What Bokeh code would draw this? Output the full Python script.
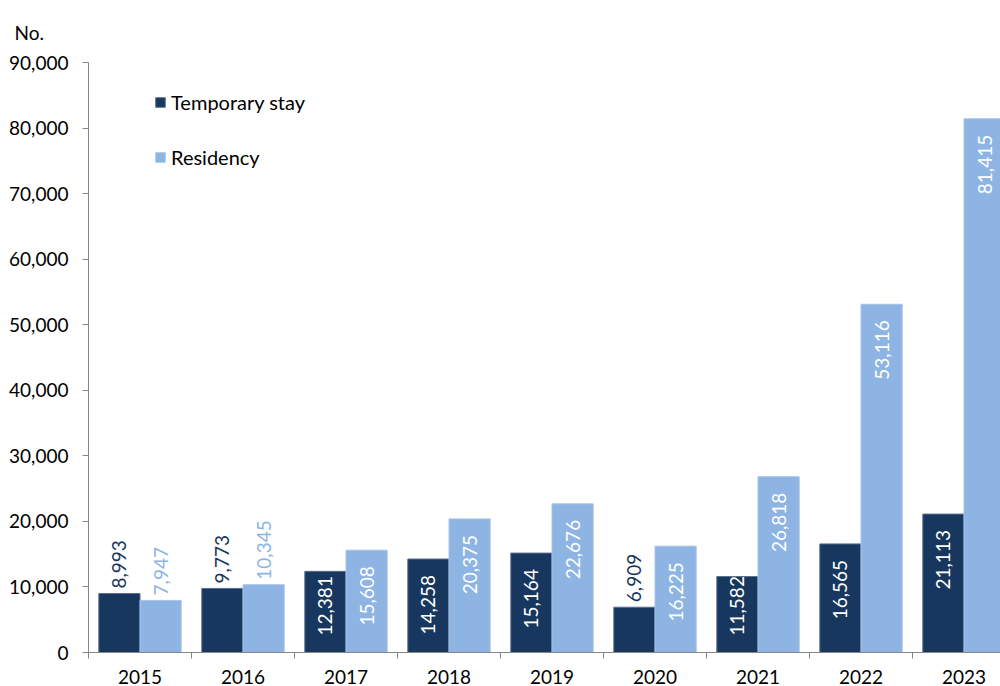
import math
from bokeh.plotting import figure
from bokeh.models import (Range1d, FixedTicker, CustomJSTickFormatter, NumeralTickFormatter,
                          ColumnDataSource, Legend, LegendItem)
from bokeh.embed import file_html
from bokeh.resources import INLINE
from bokeh.core.properties import value

# ---- data ----
years = ["2015", "2016", "2017", "2018", "2019", "2020", "2021", "2022", "2023"]
temporary_stay = [8993, 9773, 12381, 14258, 15164, 6909, 11582, 16565, 21113]
residency = [7947, 10345, 15608, 20375, 22676, 16225, 26818, 53116, 81415]
y_ticks = [0, 10000, 20000, 30000, 40000, 50000, 60000, 70000, 80000, 90000]
series_names = ["Temporary stay", "Residency"]
unit_label = "No."

# ---- style ----
DARK = "#17375E"
LIGHT = "#8DB4E2"
AXIS = "#868686"
FONT = "Lato"
FS = "19px"
FS_LEG = "20px"

W, H = 1000, 686
LEFT, TOP, BOTTOM = 88, 62, 34
SLOT_PX = 103
frame_w = W - LEFT
x_end = frame_w / SLOT_PX
Y_MAX = 90000
FRAME_H_EST = H - TOP - BOTTOM
k = FRAME_H_EST / Y_MAX

p = figure(width=W, height=H, x_range=Range1d(0, x_end), y_range=Range1d(0, Y_MAX),
           output_backend="svg", toolbar_location=None, title=unit_label,
           min_border_left=LEFT, min_border_right=0, min_border_top=TOP,
           min_border_bottom=BOTTOM)
p.outline_line_color = None
p.xgrid.grid_line_color = None
p.ygrid.grid_line_color = None
p.background_fill_color = "white"

p.title.align = "left"
p.title.offset = -74
p.title.standoff = 37
p.title.text_font = FONT
p.title.text_font_size = FS
p.title.text_font_style = "normal"
p.title.text_color = "#000000"

n = len(years)
x_dark = [i + 0.3 for i in range(n)]
x_light = [i + 0.7 for i in range(n)]

r1 = p.vbar(x=x_dark, top=temporary_stay, width=0.4, bottom=0,
            fill_color=DARK, line_color="#5A6E8C", line_width=1)
r2 = p.vbar(x=x_light, top=residency, width=0.4, bottom=0,
            fill_color=LIGHT, line_color="#A8C4E6", line_width=1)

# ---- value labels ----
def add_labels(xs, vals, color):
    top_in = dict(x=[], y=[], t=[])
    bot_in = dict(x=[], y=[], t=[])
    out = dict(x=[], y=[], t=[])
    for x, v in zip(xs, vals):
        h = v * k
        t = f"{v:,}"
        if h >= 92:
            top_in["x"].append(x); top_in["y"].append(v); top_in["t"].append(t)
        elif h >= 72:
            bot_in["x"].append(x); bot_in["y"].append(0); bot_in["t"].append(t)
        else:
            out["x"].append(x); out["y"].append(v); out["t"].append(t)
    common = dict(angle=math.pi / 2, text_baseline="middle",
                  text_font=value(FONT), text_font_size=FS)
    p.text(x="x", y="y", text="t", source=ColumnDataSource(top_in), text_align="right",
           y_offset=16, text_color="white", **common)
    p.text(x="x", y="y", text="t", source=ColumnDataSource(bot_in), text_align="left",
           y_offset=-17, text_color="white", **common)
    p.text(x="x", y="y", text="t", source=ColumnDataSource(out), text_align="left",
           y_offset=-5, text_color=color, **common)

add_labels(x_dark, temporary_stay, DARK)
add_labels(x_light, residency, LIGHT)

# ---- axes ----
xa = p.xaxis[0]
xa.ticker = FixedTicker(ticks=[i + 0.5 for i in range(n)], minor_ticks=list(range(n + 1)))
xa.formatter = CustomJSTickFormatter(args=dict(years=years), code="return years[Math.floor(tick)];")
xa.major_tick_line_color = None
xa.major_tick_out = 6
xa.major_tick_in = 0
xa.minor_tick_out = 6
xa.minor_tick_in = 0
xa.minor_tick_line_color = AXIS
xa.axis_line_color = AXIS
xa.major_label_standoff = 11
xa.major_label_text_font = FONT
xa.major_label_text_font_size = FS
xa.major_label_text_color = "#000000"

ya = p.yaxis[0]
ya.ticker = FixedTicker(ticks=y_ticks)
ya.formatter = NumeralTickFormatter(format="0,0")
ya.major_tick_out = 6
ya.major_tick_in = 0
ya.major_tick_line_color = AXIS
ya.minor_tick_line_color = None
ya.axis_line_color = AXIS
ya.major_label_standoff = 14
ya.major_label_text_font = FONT
ya.major_label_text_font_size = FS
ya.major_label_text_color = "#000000"

# ---- legend ----
legend = Legend(items=[LegendItem(label=series_names[0], renderers=[r1]),
                       LegendItem(label=series_names[1], renderers=[r2])],
                location=(66, FRAME_H_EST - 28 - 79))
legend.glyph_width = 12
legend.glyph_height = 12
legend.label_height = 20
legend.label_standoff = 5
legend.spacing = 31
legend.padding = 0
legend.margin = 0
legend.border_line_color = None
legend.background_fill_alpha = 0
legend.label_text_font = FONT
legend.label_text_font_size = FS_LEG
legend.label_text_color = "#000000"
p.add_layout(legend)

open("out.html", "w").write(file_html(p, INLINE))
